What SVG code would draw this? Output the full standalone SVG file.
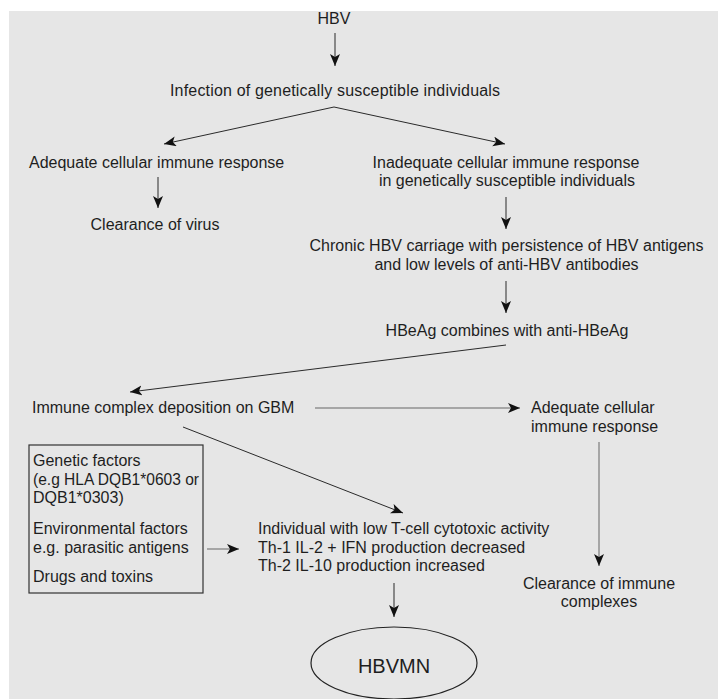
<svg xmlns="http://www.w3.org/2000/svg" width="718" height="699" viewBox="0 0 718 699">
<style>
text{font-family:"Liberation Sans",Arial,sans-serif;font-size:16px;fill:#1e1e1e}
.c{text-anchor:middle}
.ln{stroke:#2a2a2a;stroke-width:1;fill:none}
.g{stroke:#666}
</style>
<defs>
<marker id="ah" markerUnits="userSpaceOnUse" markerWidth="14" markerHeight="12" refX="12" refY="5" orient="auto">
<path d="M0,0 L12,5 L0,10 L3,5 z" fill="#111"/>
</marker>
</defs>
<rect x="0" y="0" width="718" height="699" fill="#fff"/>
<rect x="9" y="11" width="709" height="688" fill="#e6e6e6"/>
<g id="connectors">
<line class="ln" x1="335" y1="33" x2="335" y2="66" marker-end="url(#ah)"/>
<line class="ln" x1="334" y1="107" x2="164" y2="144" marker-end="url(#ah)"/>
<line class="ln" x1="334" y1="107" x2="505" y2="144" marker-end="url(#ah)"/>
<line class="ln" x1="158" y1="177" x2="158" y2="208" marker-end="url(#ah)"/>
<line class="ln" x1="506" y1="197" x2="506" y2="229" marker-end="url(#ah)"/>
<line class="ln" x1="506" y1="281" x2="506" y2="313" marker-end="url(#ah)"/>
<line class="ln" x1="506" y1="345" x2="130" y2="392" marker-end="url(#ah)"/>
<line class="ln g" x1="315" y1="408" x2="520" y2="408" marker-end="url(#ah)"/>
<line class="ln g" x1="599" y1="442" x2="599" y2="566" marker-end="url(#ah)"/>
<line class="ln" x1="183" y1="427" x2="403" y2="513" marker-end="url(#ah)"/>
<line class="ln g" x1="207" y1="549" x2="239" y2="549" marker-end="url(#ah)"/>
<line class="ln" x1="394" y1="583" x2="394" y2="617" marker-end="url(#ah)"/>
</g>
<g id="hbv"><text class="c" x="334" y="24">HBV</text></g>
<g id="infection"><text class="c" x="335" y="96" textLength="330">Infection of genetically susceptible individuals</text></g>
<g id="adequate1"><text x="29" y="168">Adequate cellular immune response</text></g>
<g id="inadequate"><text class="c" x="506" y="168">Inadequate cellular immune response</text><text class="c" x="507" y="186">in genetically susceptible individuals</text></g>
<g id="clearance-virus"><text class="c" x="155" y="230">Clearance of virus</text></g>
<g id="chronic"><text class="c" x="506.5" y="251">Chronic HBV carriage with persistence of HBV antigens</text><text class="c" x="506.5" y="270">and low levels of anti-HBV antibodies</text></g>
<g id="hbeag"><text class="c" x="507" y="336">HBeAg combines with anti-HBeAg</text></g>
<g id="immune-complex"><text x="32" y="413">Immune complex deposition on GBM</text></g>
<g id="adequate2"><text x="531" y="413">Adequate cellular</text><text x="531" y="432">immune response</text></g>
<g id="clearance-complexes"><text class="c" x="599" y="589">Clearance of immune</text><text class="c" x="599" y="607">complexes</text></g>
<g id="factors">
<rect x="29" y="445" width="174" height="148" fill="none" stroke="#333" stroke-width="1.2"/>
<text x="33" y="466">Genetic factors</text>
<text x="33" y="485" textLength="166" lengthAdjust="spacingAndGlyphs">(e.g HLA DQB1*0603 or</text>
<text x="33" y="503">DQB1*0303)</text>
<text x="33" y="534">Environmental factors</text>
<text x="33" y="553">e.g. parasitic antigens</text>
<text x="33" y="582">Drugs and toxins</text>
</g>
<g id="individual"><text x="258" y="534">Individual with low T-cell cytotoxic activity</text><text x="258" y="552.5">Th-1 IL-2 + IFN production decreased</text><text x="258" y="571">Th-2 IL-10 production increased</text></g>
<g id="hbvmn"><ellipse cx="394" cy="663" rx="83" ry="36" fill="none" stroke="#222" stroke-width="1.2"/><text class="c" x="394" y="673" style="font-size:20px">HBVMN</text></g>
</svg>
